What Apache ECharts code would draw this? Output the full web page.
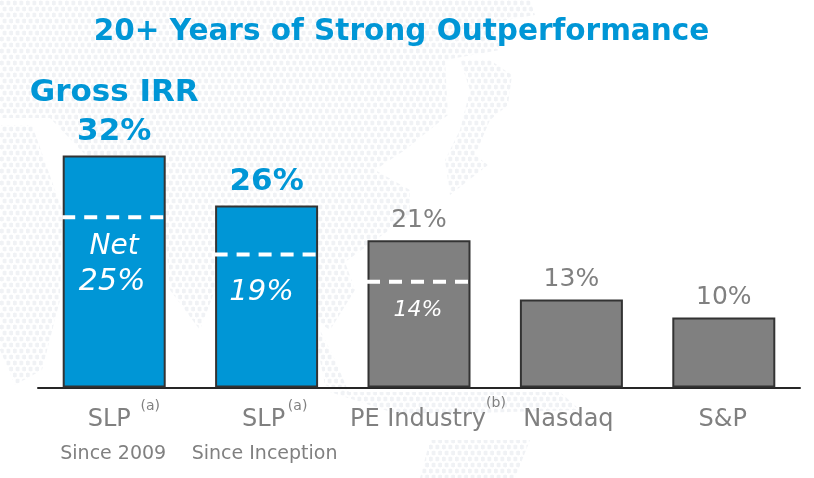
<!DOCTYPE html>
<html><head><meta charset="utf-8">
<style>
html,body{margin:0;padding:0;background:#fff}
#bg{position:absolute;left:0;top:0;width:814px;height:478px;overflow:hidden}
.d{position:absolute;left:0;top:0;width:814px;height:478px;
background-image:radial-gradient(circle at 1.6px 3px,#f0f2f5 2.2px,transparent 2.7px),radial-gradient(circle at 4.85px 9px,#f0f2f5 2.2px,transparent 2.7px);
background-size:6.5px 12px}
#c{position:absolute;left:0;top:0;width:814px;height:478px}
</style></head><body>
<div id="bg">
<div class="d" style="clip-path:polygon(0px 0px,530px 0px,535px 15px,495px 22px,500px 50px,445px 60px,448px 115px,405px 150px,375px 170px,410px 190px,410px 215px,345px 262px,355px 290px,330px 330px,318px 322px,215px 290px,200px 330px,170px 290px,165px 230px,100px 170px,50px 118px,0px 118px)"></div>
<div class="d" style="clip-path:polygon(0px 125px,32px 125px,62px 210px,60px 300px,42px 370px,15px 385px,0px 350px)"></div>
<div class="d" style="clip-path:polygon(320px 330px,335px 360px,350px 395px,325px 385px,318px 350px)"></div>
<div class="d" style="clip-path:polygon(460px 60px,490px 60px,512px 75px,508px 105px,490px 120px,475px 155px,488px 165px,450px 195px,445px 160px,460px 130px,470px 90px)"></div>
<div class="d" style="clip-path:polygon(330px 392px,560px 392px,580px 410px,400px 415px)"></div>
<div class="d" style="clip-path:polygon(430px 440px,530px 440px,515px 478px,420px 478px)"></div>
</div>
<div id="c"></div>
<script src="https://cdn.jsdelivr.net/npm/echarts@6/dist/echarts.min.js"></script>
<script>
const categories = ['SLP', 'SLP', 'PE Industry', 'Nasdaq', 'S&P'];
const periods = ['Since 2009', 'Since Inception', '', '', ''];
const footnotes = ['(a)', '(a)', '(b)', '', ''];
const grossLabels = ['32%', '26%', '21%', '13%', '10%'];
// heights as drawn in the picture, read in percentage points above the baseline
const grossHeights = [32, 25.1, 20.3, 12.15, 9.65];
const netLabels = ['25%', '19%', '14%'];
const netLevels = [23.5, 18.35, 14.6];

const BLUE = '#0096d6', GREY = '#808080', FONT = 'Tahoma, "DejaVu Sans", sans-serif';
const chart = echarts.init(document.getElementById('c'), null, {renderer: 'canvas'});

const shift = [-10, -6, -2, -6, -2];
const subShift = [-2, -4];
chart.setOption({
  animation: false,
  backgroundColor: 'transparent',
  title: {
    text: '20+ Years of Strong Outperformance', left: 396.5, top: 12, textAlign: 'center',
    textStyle: {color: BLUE, fontFamily: FONT, fontWeight: 'bold', fontSize: 29.5}
  },
  grid: {left: 38, right: 14, top: 155.5, bottom: 90.5},
  xAxis: {
    type: 'category', data: categories,
    axisLine: {lineStyle: {color: '#262626', width: 2}},
    axisTick: {show: false},
    axisLabel: {
      margin: 14, interval: 0, color: GREY, fontFamily: FONT,
      formatter: (v, i) => periods[i] ? `{n${i}|${v}}\n{p${i}|${periods[i]}}` : `{n${i}|${v}}`,
      rich: Object.assign({}, ...categories.map((c, i) => ({
        ['n' + i]: {fontSize: 24, lineHeight: 36, color: GREY, fontFamily: FONT,
          padding: [0, shift[i] < 0 ? -shift[i] : 0, 0, 0]},
        ['p' + i]: {fontSize: 19, lineHeight: 34, color: GREY, fontFamily: FONT,
          padding: [0, subShift[i] ? -subShift[i] : 0, 0, 0]}
      })))
    }
  },
  yAxis: {type: 'value', min: 0, max: 32, show: false, splitLine: {show: false}},
  series: [
    {
      type: 'bar', barWidth: 103, z: 2,
      data: grossHeights.map((h, i) => ({
        value: h,
        itemStyle: {color: i < 2 ? BLUE : GREY, borderColor: '#333', borderWidth: 2},
        label: {
          show: true, position: 'top', distance: i < 2 ? 4 : 5, fontFamily: FONT,
          formatter: i === 0 ? 'Gross IRR\n' + grossLabels[i] : grossLabels[i],
          color: i < 2 ? BLUE : GREY,
          fontWeight: i < 2 ? 'bold' : 'normal',
          fontSize: i < 2 ? 31 : 25,
          lineHeight: i < 2 ? 39 : 30
        }
      }))
    },
    {
      type: 'custom', z: 5, data: netLevels.map((v, i) => [i, v]),
      encode: {x: 0, y: 1},
      renderItem: (params, api) => {
        const i = api.value(0), p = api.coord([i, api.value(1)]);
        const x = api.coord([i, 0])[0];
        const kids = [{
          type: 'line', shape: {x1: x - 52, y1: p[1], x2: x + 53, y2: p[1]},
          style: {stroke: '#fff', lineWidth: 4, lineDash: [13, 9]}
        }];
        const base = {fill: '#fff', fontFamily: FONT, fontStyle: 'italic', textAlign: 'center', textVerticalAlign: 'middle'};
        if (i === 0) {
          kids.push({type: 'text', style: {...base, text: 'Net', x: x, y: p[1] + 30, fontSize: 28}});
          kids.push({type: 'text', style: {...base, text: netLabels[i], x: x - 2, y: p[1] + 65, fontSize: 30}});
        } else if (i === 1) {
          kids.push({type: 'text', style: {...base, text: netLabels[i], x: x - 5, y: p[1] + 38, fontSize: 29}});
        } else {
          kids.push({type: 'text', style: {...base, text: netLabels[i], x: x - 1, y: p[1] + 29, fontSize: 22}});
        }
        return {type: 'group', children: kids};
      }
    },
    {
      type: 'custom', z: 6, silent: true,
      data: footnotes.map((f, i) => [i, 0]).filter((d, i) => footnotes[i]),
      encode: {x: 0, y: 1},
      renderItem: (params, api) => {
        const i = api.value(0), p = api.coord([i, 0]);
        const dx = [36, 31, 77][i], dy = [19, 19, 16][i];
        return {type: 'text', style: {
          text: footnotes[i], x: p[0] + dx, y: p[1] + dy, fill: GREY, fontFamily: FONT,
          fontSize: 14, textAlign: 'center', textVerticalAlign: 'middle'
        }};
      }
    }
  ]
});
</script></body></html>
